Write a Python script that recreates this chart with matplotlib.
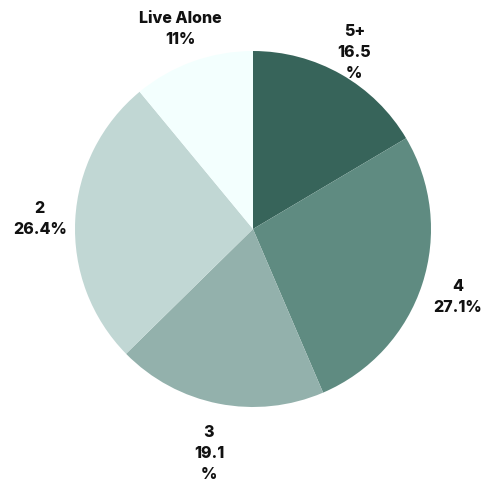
import numpy as np
import matplotlib

matplotlib.use("Agg")
import matplotlib.pyplot as plt

# Household size shares, clockwise from 12 o'clock
categories = ["5+", "4", "3", "2", "Live Alone"]
shares = [16.5, 27.1, 19.1, 26.4, 11.0]
label_texts = ["5+\n16.5\n%", "4\n27.1%", "3\n19.1\n%", "2\n26.4%", "Live Alone\n11%"]
colors = ["#37645a", "#5f8b81", "#93b1ac", "#c1d7d4", "#f3fffe"]
label_dist = [1.15, 1.21, 1.28, 1.2, 1.2]

plt.rcParams["font.family"] = ["Inter", "DejaVu Sans"]

fig = plt.figure(figsize=(4.84, 4.85), dpi=100)
ax = fig.add_axes([0, 0, 1, 1])

cx, cy, r = 253, 255, 178
wedges, _ = ax.pie(shares, colors=colors, startangle=90, counterclock=False,
                   center=(cx, cy), radius=r, frame=True,
                   wedgeprops=dict(linewidth=0))
ax.set_xlim(0, 484)
ax.set_ylim(0, 485)
ax.set_aspect("equal")
ax.axis("off")

for w, txt, d in zip(wedges, label_texts, label_dist):
    mid = np.deg2rad((w.theta1 + w.theta2) / 2)
    ax.text(cx + d * r * np.cos(mid), cy + d * r * np.sin(mid), txt,
            ha="center", va="center", fontsize=11.5, fontweight="heavy",
            linespacing=1.5, color="#111111")

fig.savefig("out.png", dpi=100)
